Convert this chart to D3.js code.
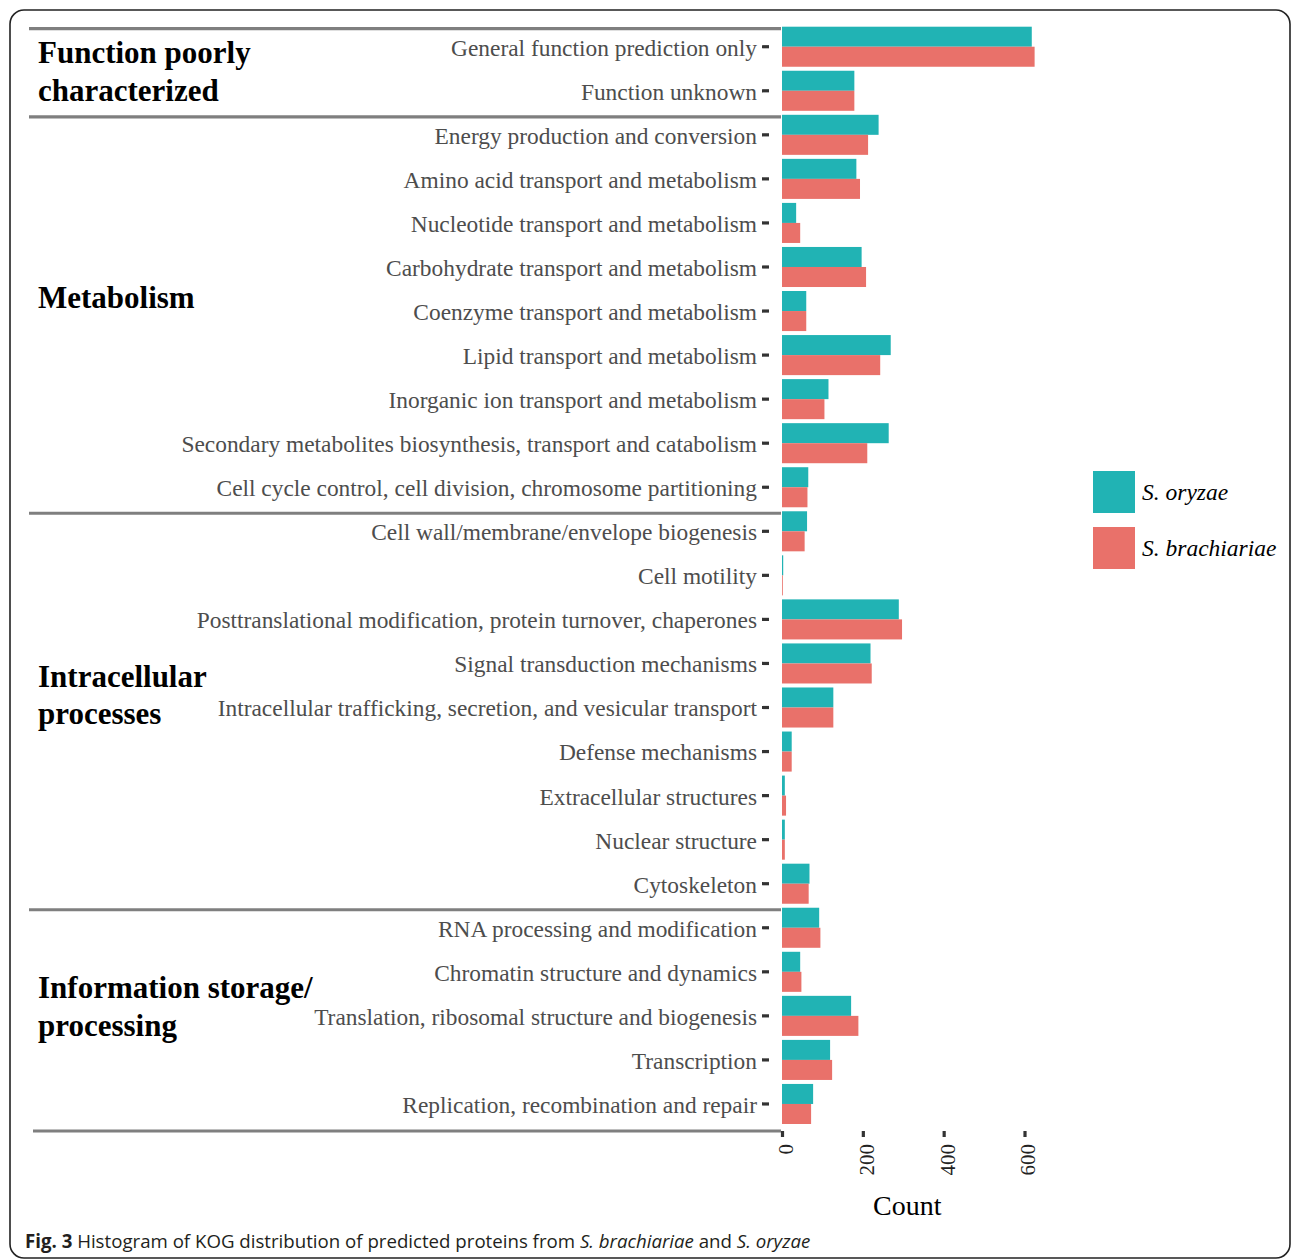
<!DOCTYPE html>
<html>
<head>
<meta charset="utf-8">
<script src="https://cdn.jsdelivr.net/npm/d3@7"></script>
<style>
  html, body { margin: 0; padding: 0; background: #fff; }
  svg { display: block; }
</style>
</head>
<body>
<svg id="chart" width="1292" height="1259"></svg>
<script>
// ---------------- DATA ----------------
const categories = [
  "General function prediction only",
  "Function unknown",
  "Energy production and conversion",
  "Amino acid transport and metabolism",
  "Nucleotide transport and metabolism",
  "Carbohydrate transport and metabolism",
  "Coenzyme transport and metabolism",
  "Lipid transport and metabolism",
  "Inorganic ion transport and metabolism",
  "Secondary metabolites biosynthesis, transport and catabolism",
  "Cell cycle control, cell division, chromosome partitioning",
  "Cell wall/membrane/envelope biogenesis",
  "Cell motility",
  "Posttranslational modification, protein turnover, chaperones",
  "Signal transduction mechanisms",
  "Intracellular trafficking, secretion, and vesicular transport",
  "Defense mechanisms",
  "Extracellular structures",
  "Nuclear structure",
  "Cytoskeleton",
  "RNA processing and modification",
  "Chromatin structure and dynamics",
  "Translation, ribosomal structure and biogenesis",
  "Transcription",
  "Replication, recombination and repair"
];
const seriesNames = ["S. oryzae", "S. brachiariae"];
const oryzae      = [618, 179, 239, 184, 35, 197, 60, 269, 115, 264, 65, 62, 3, 289, 219, 127, 24, 7, 7, 68, 92, 45, 171, 119, 77];
const brachiariae = [625, 179, 213, 193, 45, 208, 60, 243, 105, 211, 63, 56, 2, 297, 222, 127, 24, 10, 7, 66, 95, 48, 189, 124, 72];
const xTicks = [0, 200, 400, 600];
const groupLabels = [["Function poorly", "characterized"], ["Metabolism"], ["Intracellular", "processes"], ["Information storage/", "processing"]];
const groupFirst = ["General function prediction only", "Energy production and conversion", "Cell wall/membrane/envelope biogenesis", "RNA processing and modification"];
const groupLast  = ["Function unknown", "Cell cycle control, cell division, chromosome partitioning", "Cytoskeleton", "Replication, recombination and repair"];
const axisTitle = "Count";
const caption = [
  {t: "Fig. 3", b: true, i: false},
  {t: " Histogram of KOG distribution of predicted proteins from ", b: false, i: false},
  {t: "S. brachiariae", b: false, i: true},
  {t: " and ", b: false, i: false},
  {t: "S. oryzae", b: false, i: true}
];

// ---------------- LAYOUT ----------------
const colors = ["#21B3B4", "#E9716A"];
const serif = "'Liberation Serif', 'Times New Roman', serif";
const sans = "'Open Sans', 'Noto Sans', sans-serif";
const svg = d3.select("#chart");

const rows = categories.map((c, i) => ({cat: c, vals: [oryzae[i], brachiariae[i]]}));

const x = d3.scaleLinear().domain([0, 600]).range([782, 1024.5]);
const y = d3.scaleBand().domain(categories).range([24.7, 1126])
  .paddingInner(4 / 44.05).paddingOuter(2 / 44.05);
const ySub = d3.scaleBand().domain(seriesNames).range([0, y.bandwidth()]);
const color = d3.scaleOrdinal().domain(seriesNames).range(colors);

// frame
svg.append("rect")
  .attr("x", 10).attr("y", 10).attr("width", 1280).attr("height", 1248)
  .attr("rx", 14).attr("ry", 14)
  .attr("fill", "none").attr("stroke", "#222").attr("stroke-width", 1.6);

// bars
const g = svg.append("g");
const rowG = g.selectAll("g.row").data(rows).join("g")
  .attr("class", "row")
  .attr("transform", d => `translate(0,${y(d.cat)})`);
rowG.selectAll("rect").data(d => d.vals.map((v, k) => ({s: seriesNames[k], v})))
  .join("rect")
  .attr("x", x(0))
  .attr("y", d => ySub(d.s))
  .attr("width", d => Math.max(0, x(d.v) - x(0)))
  .attr("height", ySub.bandwidth())
  .attr("fill", d => color(d.s));

// y axis (labels + ticks, no domain line)
const yAxis = d3.axisLeft(y).tickSize(7).tickPadding(5);
const yg = svg.append("g").attr("transform", "translate(769,0)").call(yAxis);
yg.select(".domain").remove();
yg.selectAll(".tick line").attr("stroke", "#333").attr("stroke-width", 3.2);
yg.selectAll(".tick text")
  .attr("font-family", serif).attr("font-size", 23.4).attr("fill", "#4d4d4d")
  .attr("x", -12).attr("dy", "0.38em");

// group separators
const sepY = groupFirst.map(c => y(c) + 2).concat([y.range()[1] + 5]);
svg.selectAll("line.sep").data(sepY).join("line")
  .attr("class", "sep")
  .attr("x1", (d, i) => i === sepY.length - 1 ? 33 : 29)
  .attr("x2", 781)
  .attr("y1", d => d).attr("y2", d => d)
  .attr("stroke", "#7f7f7f").attr("stroke-width", 3.2);

// group labels
const groupNudge = [3, -13, -12, -9];
groupLabels.forEach((lines, i) => {
  const c = (y(groupFirst[i]) + y(groupLast[i]) + y.bandwidth()) / 2 + groupNudge[i];
  const lh = 37.5;
  const top = c - (lines.length - 1) * lh / 2;
  const t = svg.append("text")
    .attr("font-family", serif).attr("font-weight", "bold").attr("font-size", 31)
    .attr("fill", "#000");
  lines.forEach((ln, j) => {
    t.append("tspan").attr("x", 38).attr("y", top + j * lh + 10).text(ln);
  });
});

// x axis ticks
const xAxis = d3.axisBottom(x).tickValues(xTicks).tickSize(6).tickPadding(0).tickFormat(d3.format("d"));
const xg = svg.append("g").attr("transform", "translate(0,1131)").call(xAxis);
xg.select(".domain").remove();
xg.selectAll(".tick line").attr("stroke", "#333").attr("stroke-width", 3.2);
xg.selectAll(".tick text")
  .attr("font-family", serif).attr("font-size", 21).attr("fill", "#222")
  .attr("text-anchor", "end")
  .attr("transform", "translate(3,13) rotate(-90)")
  .attr("x", 0).attr("y", 0).attr("dy", "0.35em");

// axis title
svg.append("text")
  .attr("x", x(310)).attr("y", 1215)
  .attr("text-anchor", "middle")
  .attr("font-family", serif).attr("font-size", 28).attr("fill", "#000")
  .text(axisTitle);

// legend
const leg = svg.append("g").attr("transform", "translate(1093,471)");
seriesNames.forEach((s, i) => {
  leg.append("rect").attr("x", 0).attr("y", i * 56).attr("width", 42).attr("height", 42)
    .attr("fill", color(s));
  leg.append("text").attr("x", 49).attr("y", i * 56 + 21).attr("dy", "0.35em")
    .attr("font-family", serif).attr("font-style", "italic").attr("font-size", 23.5)
    .attr("fill", "#000").text(s);
});

// caption
const cap = svg.append("text").attr("x", 25).attr("y", 1248)
  .attr("font-family", sans).attr("font-size", 19).attr("fill", "#231f20");
caption.forEach(p => {
  cap.append("tspan").attr("font-weight", p.b ? "bold" : "normal")
    .attr("font-style", p.i ? "italic" : "normal").text(p.t);
});
const w = cap.node().getComputedTextLength();
const target = 811 - 25;
cap.attr("font-size", 19 * target / w);
</script>
</body>
</html>
